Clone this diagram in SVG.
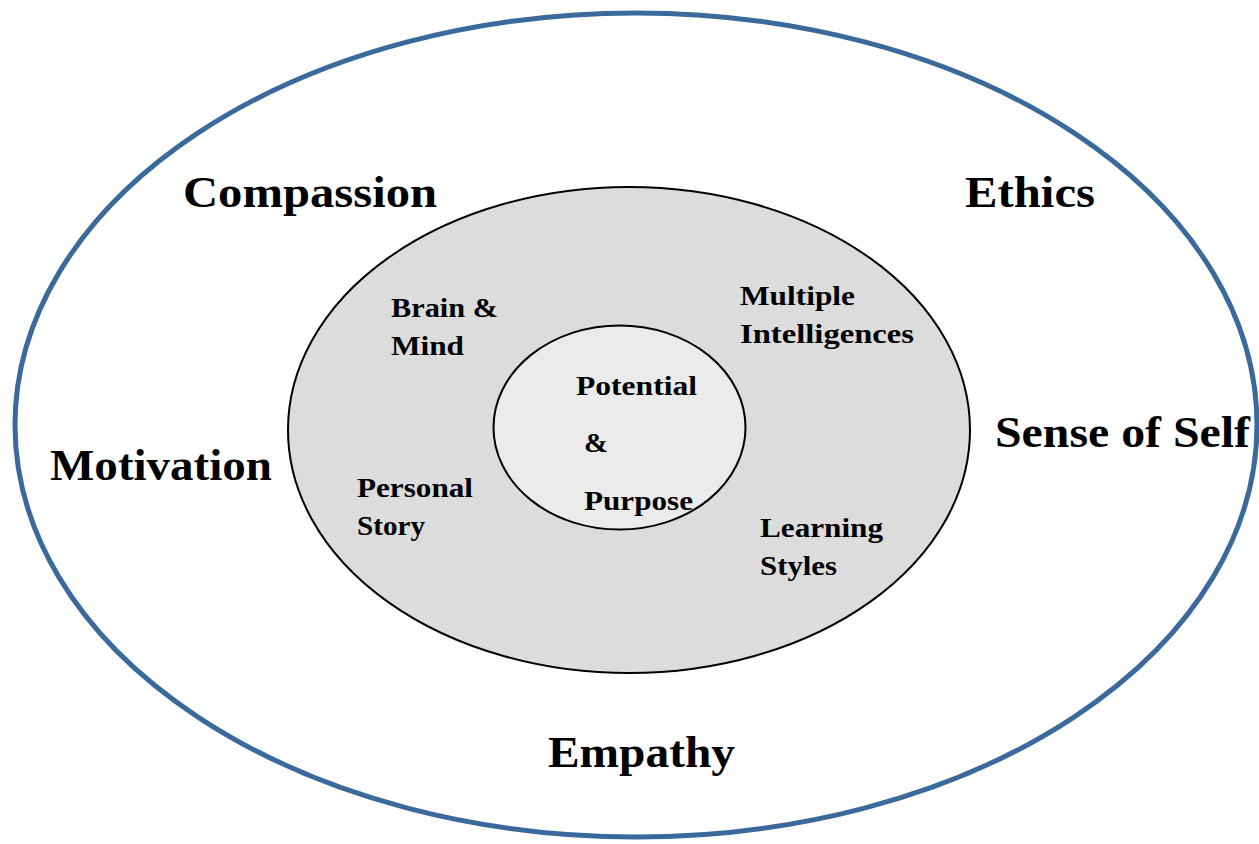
<svg xmlns="http://www.w3.org/2000/svg" width="1259" height="844" viewBox="0 0 1259 844">
<style>
.big{font-family:"Liberation Serif","Times New Roman",serif;font-weight:bold;font-size:44px;fill:#000}
.sm{font-family:"Liberation Serif","Times New Roman",serif;font-weight:bold;font-size:27px;fill:#000}
</style>
<rect width="1259" height="844" fill="#fff"/>
<g id="outer">
<ellipse cx="636" cy="425" rx="621" ry="412" fill="#fff" stroke="#3a6a9c" stroke-width="5"/>
<text class="big" x="183" y="207" textLength="254" lengthAdjust="spacingAndGlyphs">Compassion</text>
<text class="big" x="965" y="207" textLength="130" lengthAdjust="spacingAndGlyphs">Ethics</text>
<text class="big" x="50" y="480" textLength="222" lengthAdjust="spacingAndGlyphs">Motivation</text>
<text class="big" x="995" y="447" textLength="255" lengthAdjust="spacingAndGlyphs">Sense of Self</text>
<text class="big" x="548" y="767" textLength="187" lengthAdjust="spacingAndGlyphs">Empathy</text>
</g>
<g id="middle">
<ellipse cx="629" cy="430" rx="341" ry="243" fill="#dcdcdc" stroke="#000" stroke-width="2"/>
<text class="sm" x="391" y="317" textLength="107" lengthAdjust="spacingAndGlyphs">Brain &amp;</text>
<text class="sm" x="391" y="355" textLength="73" lengthAdjust="spacingAndGlyphs">Mind</text>
<text class="sm" x="740" y="305" textLength="115" lengthAdjust="spacingAndGlyphs">Multiple</text>
<text class="sm" x="740" y="343" textLength="174" lengthAdjust="spacingAndGlyphs">Intelligences</text>
<text class="sm" x="357" y="497" textLength="116" lengthAdjust="spacingAndGlyphs">Personal</text>
<text class="sm" x="357" y="535" textLength="68" lengthAdjust="spacingAndGlyphs">Story</text>
<text class="sm" x="760" y="537" textLength="123" lengthAdjust="spacingAndGlyphs">Learning</text>
<text class="sm" x="760" y="575" textLength="77" lengthAdjust="spacingAndGlyphs">Styles</text>
</g>
<g id="inner">
<ellipse cx="619.5" cy="427.5" rx="126" ry="102" fill="#ebebeb" stroke="#000" stroke-width="2"/>
<text class="sm" x="576" y="395" textLength="121" lengthAdjust="spacingAndGlyphs">Potential</text>
<text class="sm" x="584" y="452" textLength="24" lengthAdjust="spacingAndGlyphs">&amp;</text>
<text class="sm" x="584" y="510" textLength="109" lengthAdjust="spacingAndGlyphs">Purpose</text>
</g>
</svg>
